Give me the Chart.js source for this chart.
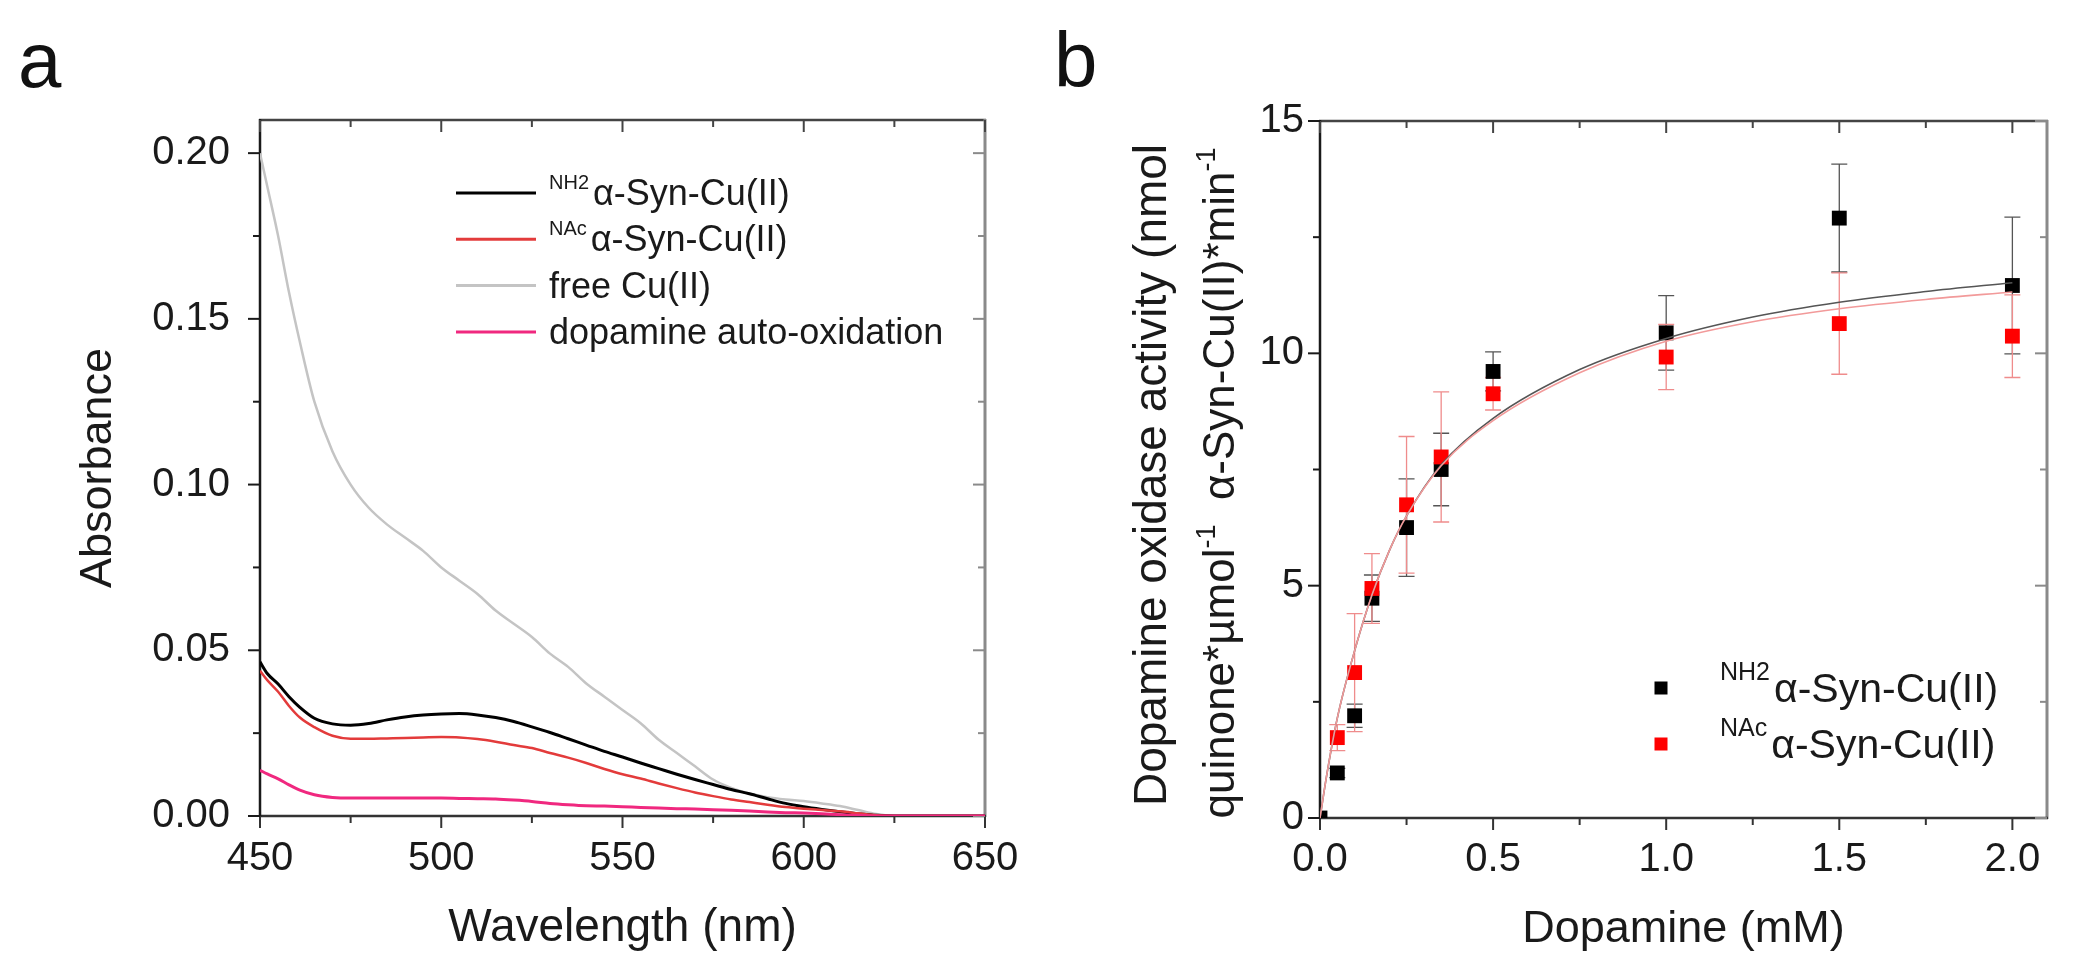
<!DOCTYPE html>
<html lang="en">
<head>
  <meta charset="utf-8">
  <title>Absorbance spectra and dopamine oxidase activity</title>
  <script src="https://cdn.jsdelivr.net/npm/chart.js@4.4.3/dist/chart.umd.min.js"></script>
  <style>
    html, body { margin: 0; padding: 0; background: #fff; }
    .wrap { position: relative; width: 2100px; height: 972px; }
    canvas { position: absolute; top: 0; }
    #chartA { left: 0; }
    #chartB { left: 1050px; }
  </style>
</head>
<body>
  <div class="wrap">
    <canvas id="chartA" width="1050" height="972"></canvas>
    <canvas id="chartB" width="1050" height="972"></canvas>
  </div>

  <script>
    const FONT = "'Liberation Sans', Arial, Helvetica, sans-serif";
    const INK = '#1a1a1a';

    // panel a - spectra
    const wavelengths = [450, 452, 455, 458, 461, 465, 470, 475, 480, 485, 490, 495, 500, 505, 510, 515, 520, 525, 530, 535,
      540, 545, 550, 555, 560, 565, 570, 575, 580, 585, 590, 595, 600, 605, 610, 615, 620, 625, 630, 640, 650];
    const absNH2 = [0.0465, 0.0430, 0.0398, 0.0360, 0.0328, 0.0295, 0.0278, 0.0274, 0.0279, 0.0290, 0.0299, 0.0305, 0.0308, 0.0309,
      0.0305, 0.0297, 0.0285, 0.0269, 0.0252, 0.0233, 0.0214, 0.0195, 0.0178, 0.0160, 0.0143, 0.0126, 0.0110, 0.0095, 0.0080,
      0.0067, 0.0052, 0.0038, 0.0028, 0.0020, 0.0013, 0.0007, 0.0002, 0, 0, 0, 0];
    const absNAc = [0.0438, 0.0410, 0.0375, 0.0332, 0.0297, 0.0268, 0.0242, 0.0233, 0.0233, 0.0234, 0.0235, 0.0237, 0.0238, 0.0237,
      0.0232, 0.0224, 0.0214, 0.0205, 0.0190, 0.0176, 0.0160, 0.0142, 0.0126, 0.0113, 0.0098, 0.0084, 0.0071, 0.0060, 0.0050,
      0.0042, 0.0034, 0.0027, 0.0022, 0.0018, 0.0014, 0.0008, 0.0002, 0, 0, 0, 0];
    const absFreeCu = [0.200, 0.190, 0.175, 0.158, 0.143, 0.125, 0.110, 0.100, 0.093, 0.088, 0.084, 0.080, 0.075, 0.071, 0.067,
      0.062, 0.058, 0.054, 0.049, 0.045, 0.040, 0.036, 0.032, 0.028, 0.023, 0.019, 0.015, 0.011, 0.0085, 0.0068, 0.0057, 0.0050,
      0.0045, 0.0038, 0.0030, 0.0018, 0.0006, 0, 0, 0, 0];
    const absDopamine = [0.0138, 0.0127, 0.0112, 0.0094, 0.0078, 0.0064, 0.0056, 0.0054, 0.0054, 0.0054, 0.0054, 0.0054, 0.0054,
      0.0053, 0.0052, 0.0051, 0.0048, 0.0044, 0.0038, 0.0034, 0.0031, 0.0030, 0.0028, 0.0026, 0.0024, 0.0022, 0.0021, 0.0019,
      0.0017, 0.0015, 0.0012, 0.0010, 0.0009, 0.0007, 0.0004, 0.0002, 0, 0, 0, 0, 0];
    const aTicksX = [450, 500, 550, 600, 650];
    const aMinorX = [475, 525, 575, 625];
    const aTicksY = [0, 0.05, 0.10, 0.15, 0.20];
    const aMinorY = [0.025, 0.075, 0.125, 0.175];
    const aLegendSup = ['NH2', 'NAc', '', ''];
    const aLegendText = ['α-Syn-Cu(II)', 'α-Syn-Cu(II)', 'free Cu(II)', 'dopamine auto-oxidation'];
    const aColors = ['#000000', '#e33b3b', '#c4c4c4', '#f0287f'];

    // panel b - activity vs dopamine
    const dopamine = [0, 0.05, 0.1, 0.15, 0.25, 0.35, 0.5, 1.0, 1.5, 2.0];
    const actNH2 = [0, 0.97, 2.2, 4.73, 6.25, 7.5, 9.61, 10.44, 12.91, 11.46];
    const errNH2 = [0, 0.1, 0.25, 0.5, 1.05, 0.78, 0.42, 0.8, 1.16, 1.47];
    const actNAc = [null, 1.73, 3.13, 4.94, 6.74, 7.77, 9.13, 9.92, 10.64, 10.37];
    const errNAc = [0, 0.28, 1.27, 0.75, 1.47, 1.4, 0.35, 0.7, 1.09, 0.89];
    const fitX = [0, 0.02, 0.05, 0.1, 0.15, 0.2, 0.25, 0.35, 0.5, 0.75, 1.0, 1.25, 1.5, 1.75, 2.0];
    const fitNH2 = [0, 0.95, 2.15, 3.6, 4.8, 5.75, 6.5, 7.6, 8.6, 9.65, 10.32, 10.78, 11.1, 11.33, 11.52];
    const fitNAc = [0, 0.95, 2.15, 3.6, 4.8, 5.75, 6.5, 7.58, 8.55, 9.58, 10.26, 10.68, 10.96, 11.16, 11.32];
    const bTicksX = [0, 0.5, 1.0, 1.5, 2.0];
    const bMinorX = [0.25, 0.75, 1.25, 1.75];
    const bTicksY = [0, 5, 10, 15];
    const bMinorY = [2.5, 7.5, 12.5];
    const bLegendSup = ['NH2', 'NAc'];
    const bLegendText = ['α-Syn-Cu(II)', 'α-Syn-Cu(II)'];
    const bColors = ['#000000', '#ff0000'];

    const xy = (xs, ys) => xs.map((x, i) => ({ x: x, y: ys[i] }));

    // box with mirrored ticks: out on bottom/left, in on top/right
    function framePlugin(majX, minX, majY, minY) {
      return {
        id: 'frame',
        beforeDatasetsDraw(chart) {
          const { ctx, chartArea: a, scales: { x, y } } = chart;
          const seg = (x1, y1, x2, y2, color, w) => {
            ctx.strokeStyle = color;
            ctx.lineWidth = w;
            ctx.beginPath();
            ctx.moveTo(x1, y1);
            ctx.lineTo(x2, y2);
            ctx.stroke();
          };
          ctx.save();
          seg(a.left - 1, a.top, a.right + 1, a.top, '#444', 2.5);
          seg(a.right, a.top - 1, a.right, a.bottom + 1, '#8a8a8a', 3);
          seg(a.left - 1, a.bottom, a.right + 1, a.bottom, '#333', 2.5);
          seg(a.left, a.top - 1, a.left, a.bottom + 1, INK, 2.5);
          [[majX, 12], [minX, 7]].forEach(([vals, len]) => {
            vals.forEach(v => {
              const px = x.getPixelForValue(v);
              seg(px, a.bottom, px, a.bottom + len, '#333', 2);
              seg(px, a.top, px, a.top + len, '#444', 2);
            });
          });
          [[majY, 12], [minY, 7]].forEach(([vals, len]) => {
            vals.forEach(v => {
              const py = y.getPixelForValue(v);
              seg(a.left - len, py, a.left, py, INK, 2);
              seg(a.right - len, py, a.right, py, '#8a8a8a', 2);
            });
          });
          ctx.restore();
        }
      };
    }

    function panelLabel(letter, x) {
      return {
        id: 'panelLabel',
        afterDraw(chart) {
          const ctx = chart.ctx;
          ctx.save();
          ctx.font = '78px ' + FONT;
          ctx.fillStyle = '#111';
          ctx.textBaseline = 'alphabetic';
          ctx.fillText(letter, x, 87);
          ctx.restore();
        }
      };
    }

    // text with a small raised prefix, e.g. NH2 before alpha
    function supText(ctx, x, y, sup, text, supSize, size, rise) {
      let cx = x;
      if (sup) {
        ctx.font = supSize + 'px ' + FONT;
        ctx.fillText(sup, cx, y - rise);
        cx += ctx.measureText(sup).width + 4;
      }
      ctx.font = size + 'px ' + FONT;
      ctx.fillText(text, cx, y);
    }

    const legendA = {
      id: 'legendA',
      afterDraw(chart) {
        const ctx = chart.ctx;
        ctx.save();
        ctx.textBaseline = 'middle';
        aLegendText.forEach((t, i) => {
          const y = 193 + i * 46.3;
          ctx.strokeStyle = aColors[i];
          ctx.lineWidth = 3;
          ctx.beginPath();
          ctx.moveTo(456, y);
          ctx.lineTo(536, y);
          ctx.stroke();
          ctx.fillStyle = INK;
          supText(ctx, 549, y + 2, aLegendSup[i], t, 20, 36, 12);
        });
        ctx.restore();
      }
    };

    const legendB = {
      id: 'legendB',
      afterDraw(chart) {
        const ctx = chart.ctx;
        ctx.save();
        ctx.textBaseline = 'middle';
        bLegendText.forEach((t, i) => {
          const y = 691 + i * 56;
          ctx.fillStyle = bColors[i];
          ctx.fillRect(611 - 6.5, y - 3 - 6.5, 13, 13);
          ctx.fillStyle = INK;
          supText(ctx, 670, y, bLegendSup[i], t, 25, 41, 18);
        });
        ctx.restore();
      }
    };

    const errorBars = {
      id: 'errorBars',
      beforeDatasetsDraw(chart) {
        const { ctx, scales: { x, y } } = chart;
        ctx.save();
        [[actNH2, errNH2, '#555555'], [actNAc, errNAc, '#ef8c8c']].forEach(([vals, errs, color]) => {
          ctx.strokeStyle = color;
          ctx.lineWidth = 1.3;
          dopamine.forEach((d, i) => {
            if (!errs[i] || vals[i] === null) return;
            const px = x.getPixelForValue(d);
            const hi = y.getPixelForValue(vals[i] + errs[i]);
            const lo = y.getPixelForValue(vals[i] - errs[i]);
            ctx.beginPath();
            ctx.moveTo(px, hi); ctx.lineTo(px, lo);
            ctx.moveTo(px - 8, hi); ctx.lineTo(px + 8, hi);
            ctx.moveTo(px - 8, lo); ctx.lineTo(px + 8, lo);
            ctx.stroke();
          });
        });
        ctx.restore();
      }
    };

    // rotated axis title line with superscripts
    function rotatedRuns(ctx, baseX, midY, runs, size, supSize, rise) {
      ctx.save();
      ctx.translate(baseX, midY);
      ctx.rotate(-Math.PI / 2);
      let total = 0;
      runs.forEach(r => {
        ctx.font = (r.sup ? supSize : size) + 'px ' + FONT;
        total += ctx.measureText(r.text).width;
      });
      let lx = -total / 2;
      runs.forEach(r => {
        ctx.font = (r.sup ? supSize : size) + 'px ' + FONT;
        ctx.fillText(r.text, lx, r.sup ? -rise : 0);
        lx += ctx.measureText(r.text).width;
      });
      ctx.restore();
    }

    const yTitleB = {
      id: 'yTitleB',
      afterDraw(chart) {
        const ctx = chart.ctx;
        ctx.save();
        ctx.fillStyle = INK;
        ctx.textAlign = 'left';
        ctx.textBaseline = 'alphabetic';
        rotatedRuns(ctx, 116, 475, [{ text: 'Dopamine oxidase activity (nmol' }], 46, 27, 19);
        rotatedRuns(ctx, 184, 483, [
          { text: 'quinone*µmol' }, { text: '-1', sup: true },
          { text: '  α-Syn-Cu(II)*min' }, { text: '-1', sup: true }
        ], 44, 27, 19);
        ctx.restore();
      }
    };

    const tickFont = { family: FONT, size: 40 };

    new Chart(document.getElementById('chartA'), {
      type: 'line',
      data: {
        datasets: [
          { label: 'NH2 α-Syn-Cu(II)', data: xy(wavelengths, absNH2), borderColor: aColors[0], borderWidth: 3, order: 3 },
          { label: 'NAc α-Syn-Cu(II)', data: xy(wavelengths, absNAc), borderColor: aColors[1], borderWidth: 2.5, order: 2 },
          { label: 'free Cu(II)', data: xy(wavelengths, absFreeCu), borderColor: aColors[2], borderWidth: 2.5, order: 4 },
          { label: 'dopamine auto-oxidation', data: xy(wavelengths, absDopamine), borderColor: aColors[3], borderWidth: 3, order: 1 }
        ]
      },
      options: {
        responsive: false,
        animation: false,
        layout: { padding: { top: 120, right: 65, left: 0, bottom: 0 } },
        elements: {
          point: { radius: 0 },
          line: { cubicInterpolationMode: 'monotone', fill: false }
        },
        plugins: { legend: { display: false }, tooltip: { enabled: false } },
        scales: {
          x: {
            type: 'linear', min: 450, max: 650,
            afterFit: s => { s.height = 156; },
            afterBuildTicks: s => { s.ticks = aTicksX.map(v => ({ value: v })); },
            grid: { display: false, drawTicks: false },
            border: { display: false },
            ticks: { padding: 19, color: INK, font: tickFont, maxRotation: 0, autoSkip: false, callback: v => String(v) },
            title: { display: true, text: 'Wavelength (nm)', color: INK, font: { family: FONT, size: 46 }, padding: { bottom: 16 } }
          },
          y: {
            type: 'linear', min: 0, max: 0.21,
            afterFit: s => { s.width = 260; },
            afterBuildTicks: s => { s.ticks = aTicksY.map(v => ({ value: v })); },
            grid: { display: false, drawTicks: false },
            border: { display: false },
            ticks: { padding: 30, color: INK, font: tickFont, autoSkip: false, callback: v => v.toFixed(2) },
            title: { display: true, text: 'Absorbance', color: INK, font: { family: FONT, size: 45 }, padding: { top: 72 } }
          }
        }
      },
      plugins: [framePlugin(aTicksX, aMinorX, aTicksY, aMinorY), legendA, panelLabel('a', 18)]
    });

    new Chart(document.getElementById('chartB'), {
      type: 'scatter',
      data: {
        datasets: [
          { label: 'NH2 α-Syn-Cu(II)', data: xy(dopamine, actNH2), pointStyle: 'rect', pointRadius: 10.5, backgroundColor: bColors[0], borderWidth: 0, clip: 0, order: 4 },
          { label: 'NAc α-Syn-Cu(II)', data: xy(dopamine, actNAc), pointStyle: 'rect', pointRadius: 10.5, backgroundColor: bColors[1], borderWidth: 0, clip: 0, order: 3 },
          { label: 'fit NH2', data: xy(fitX, fitNH2), showLine: true, pointRadius: 0, borderColor: '#555555', borderWidth: 1.6, cubicInterpolationMode: 'monotone', order: 2 },
          { label: 'fit NAc', data: xy(fitX, fitNAc), showLine: true, pointRadius: 0, borderColor: '#f29a9a', borderWidth: 1.6, cubicInterpolationMode: 'monotone', order: 1 }
        ]
      },
      options: {
        responsive: false,
        animation: false,
        layout: { padding: { top: 121, right: 53, left: 0, bottom: 0 } },
        plugins: { legend: { display: false }, tooltip: { enabled: false } },
        scales: {
          x: {
            type: 'linear', min: 0, max: 2.1,
            afterFit: s => { s.height = 154; },
            afterBuildTicks: s => { s.ticks = bTicksX.map(v => ({ value: v })); },
            grid: { display: false, drawTicks: false },
            border: { display: false },
            ticks: { padding: 18, color: INK, font: tickFont, maxRotation: 0, autoSkip: false, callback: v => v.toFixed(1) },
            title: { display: true, text: 'Dopamine (mM)', color: INK, font: { family: FONT, size: 45 }, padding: { bottom: 15 } }
          },
          y: {
            type: 'linear', min: 0, max: 15,
            afterFit: s => { s.width = 270; },
            afterBuildTicks: s => { s.ticks = bTicksY.map(v => ({ value: v })); },
            grid: { display: false, drawTicks: false },
            border: { display: false },
            ticks: { padding: 16, color: INK, font: tickFont, autoSkip: false, callback: v => String(v) },
            title: { display: false }
          }
        }
      },
      plugins: [framePlugin(bTicksX, bMinorX, bTicksY, bMinorY), errorBars, legendB, yTitleB, panelLabel('b', 4)]
    });
  </script>
</body>
</html>
